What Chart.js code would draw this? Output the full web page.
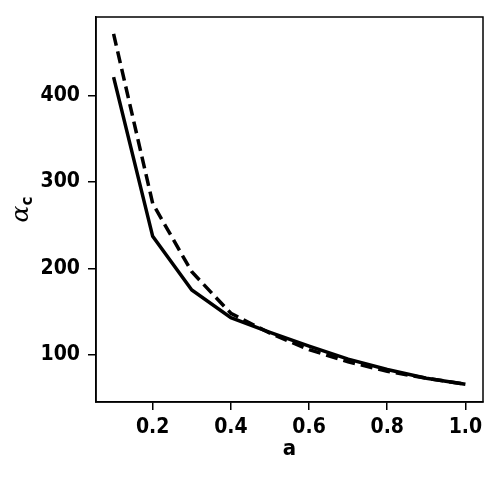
<!DOCTYPE html>
<html>
<head>
<meta charset="utf-8">
<script src="https://cdn.jsdelivr.net/npm/chart.js@4"></script>
<style>
  html, body { margin: 0; padding: 0; background: #fff; }
  #wrap { width: 500px; height: 479px; }
</style>
</head>
<body>
<div id="wrap"><canvas id="chart" width="500" height="479"></canvas></div>
<script>
// data
const aValues = [0.1, 0.2, 0.3, 0.4, 0.5, 0.6, 0.7, 0.8, 0.9, 1.0];
const solidAlpha = [421, 237, 175, 143, 126, 110, 95, 83, 73, 66];
const dashedAlpha = [471, 275, 196, 148, 125, 106, 92, 81, 73, 66];
const xTicks = [0.2, 0.4, 0.6, 0.8, 1.0];
const yTicks = [100, 200, 300, 400];

const tickFont = { family: "'DejaVu Sans Condensed', 'DejaVu Sans'", size: 21, weight: "bold" };

function points(ys) {
  return aValues.map((a, i) => ({ x: a, y: ys[i] }));
}

// frame + axis titles
const decorPlugin = {
  id: "decor",
  afterDraw(chart) {
    const ctx = chart.ctx;
    const area = chart.chartArea;
    ctx.save();
    ctx.strokeStyle = "#000";
    ctx.lineWidth = 1.5;
    ctx.strokeRect(area.left, area.top, area.right - area.left, area.bottom - area.top);

    // x title
    ctx.fillStyle = "#000";
    ctx.font = "bold 22px 'DejaVu Sans Condensed', 'DejaVu Sans'";
    ctx.textAlign = "center";
    ctx.textBaseline = "alphabetic";
    ctx.fillText("a", (area.left + area.right) / 2, 455);

    // y title: alpha with subscript c
    ctx.translate(28, (area.top + area.bottom) / 2);
    ctx.rotate(-Math.PI / 2);
    ctx.textAlign = "left";
    ctx.font = "italic 25px 'DejaVu Serif'";
    const wA = ctx.measureText("α").width;
    ctx.font = "bold 15px 'DejaVu Sans'";
    const wC = ctx.measureText("c").width;
    const start = -(wA + wC) / 2;
    ctx.font = "italic 25px 'DejaVu Serif'";
    ctx.fillText("α", start, 0);
    ctx.font = "bold 15px 'DejaVu Sans'";
    ctx.fillText("c", start + wA, 4);
    ctx.restore();
  }
};

new Chart(document.getElementById("chart").getContext("2d"), {
  type: "line",
  data: {
    datasets: [
      {
        data: points(solidAlpha),
        borderColor: "#000",
        borderWidth: 3.5,
        pointRadius: 0,
        fill: false,
        tension: 0,
      },
      {
        data: points(dashedAlpha),
        borderColor: "#000",
        borderWidth: 3.5,
        borderDash: [12, 6],
        pointRadius: 0,
        fill: false,
        tension: 0,
      },
    ],
  },
  options: {
    responsive: false,
    animation: false,
    layout: { padding: { top: 17, right: 17, left: 0, bottom: 0 } },
    plugins: {
      legend: { display: false },
      tooltip: { enabled: false },
    },
    scales: {
      x: {
        type: "linear",
        min: 0.055,
        max: 1.045,
        afterFit(scale) {
          scale.height = 77;
          scale.paddingLeft = 0;
          scale.paddingRight = 0;
        },
        afterBuildTicks(scale) { scale.ticks = xTicks.map(v => ({ value: v })); },
        ticks: {
          color: "#000",
          font: tickFont,
          padding: 5,
          maxRotation: 0,
          callback: v => v.toFixed(1),
        },
        grid: { drawOnChartArea: false, drawTicks: true, tickLength: 8, color: "#000", lineWidth: 1.5 },
        border: { display: true, color: "#000", width: 1.5 },
      },
      y: {
        type: "linear",
        min: 45.5,
        max: 490.5,
        afterFit(scale) {
          scale.width = 96;
          scale.paddingTop = 0;
          scale.paddingBottom = 0;
        },
        afterBuildTicks(scale) { scale.ticks = yTicks.map(v => ({ value: v })); },
        ticks: {
          color: "#000",
          font: tickFont,
          padding: 8,
        },
        grid: { drawOnChartArea: false, drawTicks: true, tickLength: 8, color: "#000", lineWidth: 1.5 },
        border: { display: true, color: "#000", width: 1.5 },
      },
    },
  },
  plugins: [decorPlugin],
});
</script>
</body>
</html>
